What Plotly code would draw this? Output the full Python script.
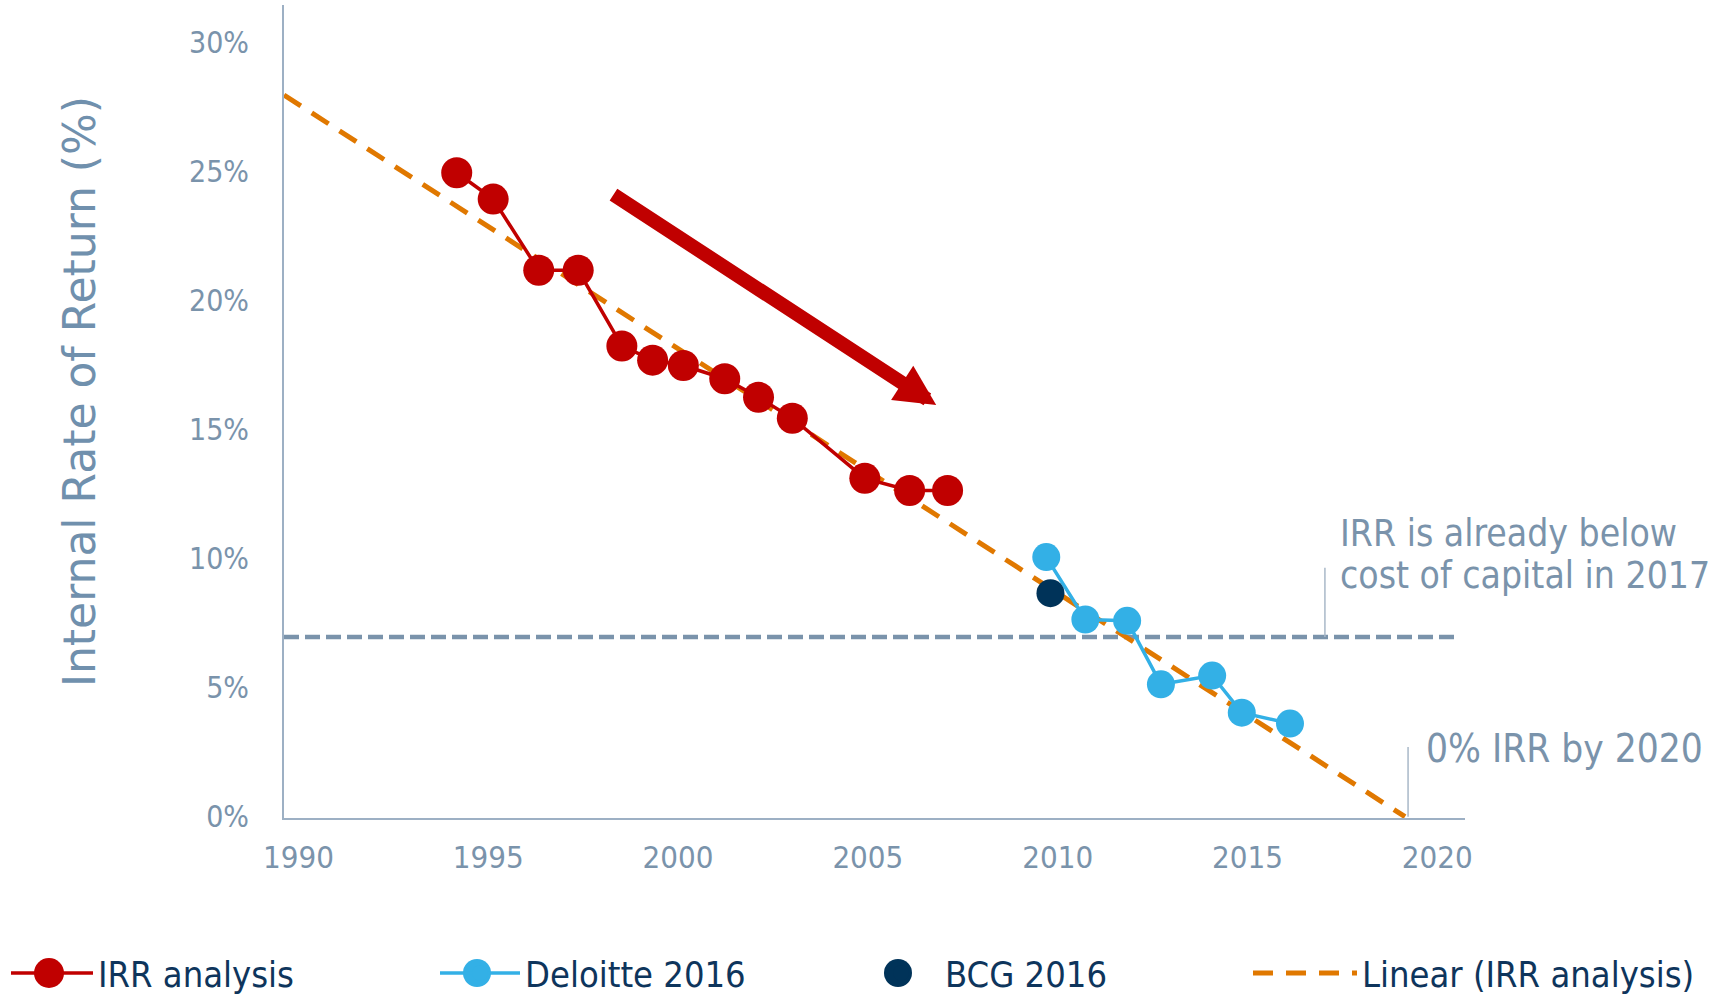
import plotly.graph_objects as go

# ---- data ----
irr_years = [1994.17, 1995.13, 1996.33, 1997.37, 1998.52, 1999.33, 2000.14,
             2001.23, 2002.12, 2003.01, 2004.92, 2006.10, 2007.10]
irr_values = [24.95, 23.93, 21.17, 21.17, 18.24, 17.69, 17.48,
              16.97, 16.25, 15.44, 13.11, 12.64, 12.64]

deloitte_years = [2009.70, 2010.73, 2011.83, 2012.72, 2014.07, 2014.85, 2016.12]
deloitte_values = [10.06, 7.64, 7.59, 5.13, 5.47, 4.03, 3.61]

bcg_years = [2009.81]
bcg_values = [8.66]

trend_years = [1989.62, 2019.15]
trend_values = [27.96, 0.0]

cost_of_capital_years = [1989.62, 2020.45]
cost_of_capital_values = [6.96, 6.96]

x_ticks = [1990, 1995, 2000, 2005, 2010, 2015, 2020]
y_ticks = [0, 5, 10, 15, 20, 25, 30]
y_tick_labels = ["0%", "5%", "10%", "15%", "20%", "25%", "30%"]

# ---- styling ----
AXIS_TXT = "#7A93AB"
AXIS_LINE = "#9DB0C4"
LEGEND_TXT = "#0E355C"
RED = "#C00000"
BLUE = "#33B0E6"
NAVY = "#003359"
ORANGE = "#E07800"
GREY = "#7A93AB"
FONT = "DejaVu Sans Condensed, DejaVu Sans, sans-serif"

W, H = 1714, 997
PL, PR, PT, PB = 284, 1465, 5, 818   # plot area in pixels


def px_to_paper(px, py):
    return (px - PL) / (PR - PL), (PB - py) / (PB - PT)


fig = go.Figure()

fig.add_trace(go.Scatter(
    x=cost_of_capital_years, y=cost_of_capital_values, mode="lines",
    line=dict(color=GREY, width=4.5, dash="15px,6px"),
    showlegend=False, hoverinfo="skip"))

fig.add_trace(go.Scatter(
    x=trend_years, y=trend_values, mode="lines", name="Linear (IRR analysis)",
    line=dict(color=ORANGE, width=5, dash="20px,13px"), legend="legend4"))

fig.add_trace(go.Scatter(
    x=irr_years, y=irr_values, mode="lines+markers", name="IRR analysis",
    line=dict(color=RED, width=3.5), marker=dict(color=RED, size=31),
    legend="legend"))

fig.add_trace(go.Scatter(
    x=deloitte_years, y=deloitte_values, mode="lines+markers", name="Deloitte 2016",
    line=dict(color=BLUE, width=3.5), marker=dict(color=BLUE, size=28),
    legend="legend2"))

fig.add_trace(go.Scatter(
    x=bcg_years, y=bcg_values, mode="markers", name="BCG 2016",
    marker=dict(color=NAVY, size=28), legend="legend3"))

# annotation leader lines
fig.add_shape(type="line", x0=2017.04, x1=2017.04, y0=6.96, y1=9.65,
              line=dict(color="#A9B8C8", width=1.5))
fig.add_shape(type="line", x0=2019.23, x1=2019.23, y0=0, y1=2.7,
              line=dict(color="#A9B8C8", width=1.5))

# big red arrow
fig.add_annotation(x=2006.80, y=15.95, ax=1998.26, ay=24.14,
                   xref="x", yref="y", axref="x", ayref="y",
                   showarrow=True, arrowhead=2, arrowsize=0.58, arrowwidth=14,
                   arrowcolor=RED, text="")

note_font = dict(family=FONT, size=37, color=AXIS_TXT)
fig.add_annotation(x=2017.39, y=10.99, xref="x", yref="y",
                   text="IRR is already below",
                   showarrow=False, xanchor="left", yanchor="middle", align="left",
                   font=note_font)
fig.add_annotation(x=2017.39, y=9.33, xref="x", yref="y",
                   text="cost of capital in 2017",
                   showarrow=False, xanchor="left", yanchor="middle", align="left",
                   font=note_font)
fig.add_annotation(x=2019.64, y=2.63, xref="x", yref="y",
                   text="0% IRR by 2020",
                   showarrow=False, xanchor="left", yanchor="middle", align="left",
                   font=dict(family=FONT, size=38.5, color=AXIS_TXT))

# y-axis title
tx, ty = px_to_paper(79, 392)
fig.add_annotation(x=tx, y=ty, xref="paper", yref="paper",
                   text="Internal Rate of Return (%)", showarrow=False,
                   xanchor="center", yanchor="middle", textangle=-90,
                   font=dict(family="DejaVu Sans, sans-serif", size=44,
                             color="#7090AD"))

# enlarge legend markers (plotly caps legend marker size)
for cx, r, col in [(49, 15, RED), (477, 14, BLUE), (898, 14, NAVY)]:
    x0, y0 = px_to_paper(cx - r, 973 + r)
    x1, y1 = px_to_paper(cx + r, 973 - r)
    fig.add_shape(type="circle", xref="paper", yref="paper",
                  x0=x0, x1=x1, y0=y0, y1=y1,
                  fillcolor=col, line=dict(width=0), layer="above")

leg_common = dict(orientation="h", xref="container", yref="container",
                  y=1 - 973 / H, yanchor="middle", xanchor="left",
                  font=dict(family=FONT, size=36, color=LEGEND_TXT),
                  bgcolor="rgba(0,0,0,0)")

fig.update_layout(
    width=W, height=H,
    margin=dict(l=PL, r=W - PR, t=PT, b=H - PB),
    paper_bgcolor="white", plot_bgcolor="white",
    font=dict(family=FONT, color=AXIS_TXT),
    showlegend=True,
    legend=dict(leg_common, x=6 / W, itemwidth=82),
    legend2=dict(leg_common, x=435 / W, itemwidth=80),
    legend3=dict(leg_common, x=857 / W, itemwidth=78),
    legend4=dict(leg_common, x=1248 / W, itemwidth=104),
)

fig.update_xaxes(range=[1989.62, 2020.73], tickvals=x_ticks,
                 ticktext=[str(v) for v in x_ticks],
                 showgrid=False, zeroline=False, showline=True,
                 linecolor=AXIS_LINE, linewidth=2, automargin=False,
                 ticks="", ticklabelstandoff=11,
                 tickfont=dict(family=FONT, size=31, color=AXIS_TXT))
fig.update_yaxes(range=[-0.05, 31.45], tickvals=y_ticks, ticktext=y_tick_labels,
                 showgrid=False, zeroline=False, showline=True,
                 linecolor=AXIS_LINE, linewidth=2, automargin=False,
                 ticks="", ticklabelstandoff=27,
                 tickfont=dict(family=FONT, size=30, color=AXIS_TXT))

fig.write_html("out.html",
               config={"displayModeBar": False},
               post_script="document.body.style.margin='0';"
                           "document.body.style.overflow='hidden';")
